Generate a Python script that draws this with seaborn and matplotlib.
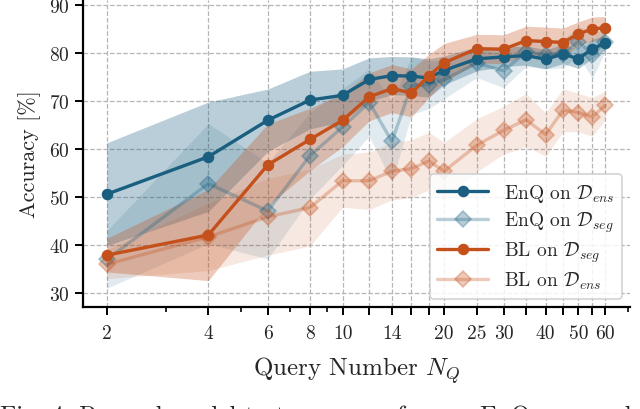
import numpy as np
import pandas as pd
import seaborn as sns
import matplotlib
matplotlib.use("Agg")
import matplotlib.pyplot as plt
from matplotlib.ticker import FixedLocator, NullFormatter

# query numbers
queries = [2, 4, 6, 8, 10, 12, 14, 16, 18, 20, 25, 30, 35, 40, 45, 50, 55, 60]
tick_labels = ["2", "4", "6", "8", "10", "", "14", "", "", "20",
               "25", "30", "", "40", "", "50", "", "60"]

# mean accuracy and std per method / dataset
enq_ens = [50.5, 58.3, 65.9, 70.1, 71.1, 74.4, 75.2, 75.1, 74.7, 76.3,
           78.7, 79.1, 79.4, 78.6, 79.7, 78.7, 80.8, 82.0]
enq_ens_sd = [10.7, 11.4, 6.5, 6.0, 5.5, 4.5, 4.0, 4.0, 4.0, 3.0,
              2.5, 2.0, 2.0, 2.0, 2.0, 2.0, 2.0, 1.5]
enq_seg = [36.9, 52.7, 47.0, 58.5, 64.5, 69.6, 61.5, 73.1, 73.3, 74.4,
           77.8, 76.2, 80.1, 79.6, 79.8, 82.3, 79.6, 82.2]
enq_seg_sd = [6.0, 12.5, 10.0, 9.0, 8.0, 7.0, 8.5, 6.0, 5.0, 4.0,
              3.0, 3.5, 3.0, 3.0, 3.0, 3.0, 5.0, 2.0]
bl_seg = [37.8, 42.0, 56.6, 61.9, 65.9, 70.8, 72.5, 71.6, 75.1, 77.9,
          80.8, 80.7, 82.5, 82.3, 82.1, 83.9, 84.9, 85.2]
bl_seg_sd = [3.5, 9.5, 8.5, 6.5, 5.5, 5.0, 5.0, 5.0, 4.5, 4.0,
             3.0, 3.0, 3.0, 3.0, 3.0, 2.5, 2.5, 2.3]
bl_ens = [35.9, 41.6, 45.8, 47.7, 53.3, 53.3, 55.3, 55.8, 57.4, 55.3,
          60.7, 63.8, 66.0, 62.9, 68.0, 67.5, 66.6, 69.0]
bl_ens_sd = [3.0, 7.0, 8.0, 8.0, 5.5, 6.0, 6.0, 6.0, 6.0, 6.0,
             5.5, 5.0, 5.5, 4.5, 4.5, 4.0, 4.0, 3.0]

blue = "#1a5f80"
orange = "#c4501b"

sns.set_theme(style="ticks")
plt.rcParams.update({
    "font.family": "serif",
    "font.serif": ["cmr10"],
    "mathtext.fontset": "cm",
    "axes.formatter.use_mathtext": True,
    "axes.unicode_minus": False,
})

series = [
    ("EnQ on $\\mathcal{D}_{ens}$", enq_ens, enq_ens_sd, blue, "o", 1.0, 0.30),
    ("EnQ on $\\mathcal{D}_{seg}$", enq_seg, enq_seg_sd, blue, "D", 0.3, 0.13),
    ("BL on $\\mathcal{D}_{seg}$", bl_seg, bl_seg_sd, orange, "o", 1.0, 0.30),
    ("BL on $\\mathcal{D}_{ens}$", bl_ens, bl_ens_sd, orange, "D", 0.3, 0.13),
]

fig = plt.figure(figsize=(6.4, 4.1), dpi=100)
ax = fig.add_axes([0.1297, 0.2488, 0.8543, 0.7493])

for label, mean, sd, color, marker, alpha, band_alpha in series:
    m = np.array(mean)
    s = np.array(sd)
    ax.fill_between(queries, m - s, m + s, color=color, alpha=band_alpha,
                    linewidth=0)
for label, mean, sd, color, marker, alpha, band_alpha in series:
    df = pd.DataFrame({"q": queries, "acc": mean})
    sns.lineplot(data=df, x="q", y="acc", ax=ax, color=color, alpha=alpha,
                 marker=marker, markersize=7 if marker == "o" else 8.5,
                 markeredgecolor=color, markeredgewidth=1.3,
                 linewidth=2.4, label=label)

ax.set_xscale("log")
ax.set_xlim(1.7, 71)
ax.set_ylim(27, 91)
ax.xaxis.set_major_locator(FixedLocator(queries))
ax.set_xticklabels(tick_labels)
ax.xaxis.set_minor_locator(FixedLocator([3, 5, 7, 9, 70]))
ax.xaxis.set_minor_formatter(NullFormatter())
ax.set_yticks([30, 40, 50, 60, 70, 80, 90])

ax.grid(True, which="major", linestyle="--", color="#b5b5b5", linewidth=0.9)
ax.set_axisbelow(True)
sns.despine(ax=ax)
for sp in ["left", "bottom"]:
    ax.spines[sp].set_linewidth(1.6)
    ax.spines[sp].set_color("black")
ax.tick_params(axis="both", which="major", length=6, width=1.4,
               labelsize=14, color="black")
ax.tick_params(axis="x", which="major", pad=6)
ax.tick_params(axis="x", which="minor", length=3.5, width=1.2, color="black")

ax.set_xlabel("Query Number $N_Q$", fontsize=18, labelpad=9)
ax.set_ylabel("Accuracy [%]", fontsize=16, labelpad=6)

leg = ax.legend(loc="lower right", fontsize=14, frameon=True, fancybox=True,
                framealpha=0.85, edgecolor="#cccccc", handlelength=2.6,
                borderaxespad=0.4, labelspacing=0.3)
leg.get_frame().set_linewidth(1.2)

fig.text(0.0, -0.016, "Fig. 4: Reward model test accuracy for our EnQ approach and",
         fontsize=18, ha="left", va="center")

fig.savefig("out.png", dpi=100)
